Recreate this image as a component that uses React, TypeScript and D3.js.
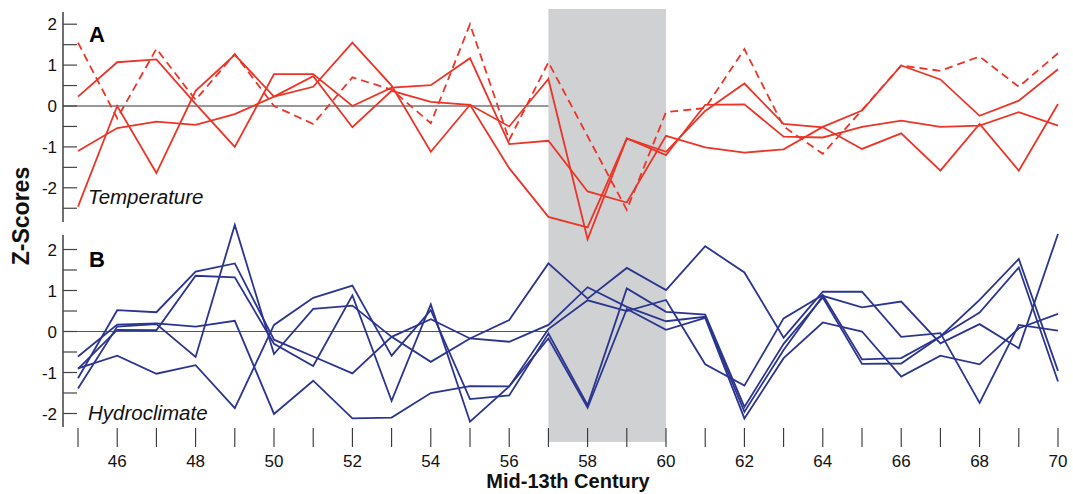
import React from "react";
import * as d3 from "d3";

// ---- data ----
const YEARS = [45, 46, 47, 48, 49, 50, 51, 52, 53, 54, 55, 56, 57, 58, 59, 60, 61, 62, 63, 64, 65, 66, 67, 68, 69, 70];
const X_TICK_LABELS = [46, 48, 50, 52, 54, 56, 58, 60, 62, 64, 66, 68, 70];
const Y_TICK_LABELS = [-2, -1, 0, 1, 2];
const SHADE_START = 57;
const SHADE_END = 60;

// Temperature (panel A)
const TEMP_1 = [0.23, 1.07, 1.14, 0.05, -1.0, 0.78, 0.78, 0.0, 0.45, 0.51, 1.17, -0.93, -0.85, -2.09, -2.36, -0.73, -1.01, -1.14, -1.06, -0.51, -0.11, 0.99, 0.65, -0.24, 0.13, 0.9];
const TEMP_2 = [-1.1, -0.54, -0.38, -0.46, -0.2, 0.23, 0.47, 1.55, 0.5, -1.12, 0.03, -0.5, 0.66, -3.26, -0.79, -1.12, -0.12, 0.55, -0.44, -0.52, -1.05, -0.67, -1.58, -0.44, -1.58, 0.05];
const TEMP_3 = [-2.46, 0.0, -1.64, 0.37, 1.25, 0.23, 0.73, -0.52, 0.37, 0.1, 0.03, -1.52, -2.71, -2.97, -0.79, -1.2, 0.03, 0.04, -0.75, -0.77, -0.51, -0.36, -0.51, -0.48, -0.15, -0.48];
const TEMP_DASHED = [1.55, -0.3, 1.4, 0.15, 1.27, 0.0, -0.44, 0.7, 0.4, -0.42, 2.0, -0.83, 1.07, -0.74, -2.54, -0.15, -0.05, 1.39, -0.5, -1.17, -0.1, 0.99, 0.86, 1.21, 0.47, 1.29];

// Hydroclimate (panel B)
const HYDRO_1 = [-0.9, -0.59, -1.03, -0.82, -1.87, 0.16, 0.82, 1.12, -0.59, 0.52, -1.65, -1.56, -0.05, -1.8, 1.05, 0.48, 0.41, -1.84, -0.3, 0.83, -0.79, -0.78, -0.12, 0.46, 1.56, -1.22];
const HYDRO_2 = [-0.61, 0.17, 0.2, 0.12, 0.26, -2.01, -1.2, -2.12, -2.1, -1.5, -1.33, -1.34, 0.06, 0.76, 0.5, 0.77, -0.8, -1.32, 0.32, 0.89, -0.68, -0.65, -0.12, 0.77, 1.77, -0.96];
const HYDRO_3 = [-1.39, 0.12, 0.18, -0.62, 2.6, -0.55, 0.55, 0.63, -0.13, -0.74, -0.17, 0.28, 1.66, 0.8, 1.55, 1.01, 2.08, 1.44, -0.15, 0.97, 0.97, -0.13, -0.04, -1.74, 0.16, 0.02];
const HYDRO_4 = [-1.14, 0.52, 0.47, 1.46, 1.66, -0.2, -0.61, -1.02, -0.13, 0.3, -0.17, -0.25, 0.16, 1.08, 0.6, 0.25, 0.36, -1.96, -0.45, 0.87, 0.59, 0.73, -0.29, 0.18, -0.41, 2.38];
const HYDRO_5 = [-0.91, 0.04, 0.03, 1.36, 1.32, -0.3, -0.84, 0.88, -1.69, 0.66, -2.2, -1.34, -0.17, -1.86, 0.55, 0.04, 0.33, -2.12, -0.65, 0.22, 0.0, -1.1, -0.59, -0.8, 0.08, 0.43];

const TEMP_SOLID = [TEMP_1, TEMP_2, TEMP_3];
const HYDRO = [HYDRO_1, HYDRO_2, HYDRO_3, HYDRO_4, HYDRO_5];

const RED = "#ec3427";
const BLUE = "#2b3590";
const FONT = "'Liberation Sans', Arial, Helvetica, sans-serif";

export default function App() {
  const W = 1073;
  const H = 494;
  const x = d3.scaleLinear().domain([45, 70]).range([78, 1058]);
  const yA = d3.scaleLinear().domain([-2, 2]).range([187.8, 24.2]);
  const yB = d3.scaleLinear().domain([-2, 2]).range([413.5, 249.5]);
  const axisX = 63;

  const lineA = d3
    .line<number>()
    .x((_, i) => x(YEARS[i]))
    .y((d) => yA(d));
  const lineB = d3
    .line<number>()
    .x((_, i) => x(YEARS[i]))
    .y((d) => yB(d));

  const ticksA = d3.range(-2.5, 2.01, 0.5);
  const ticksB = d3.range(-2, 2.01, 0.5);

  return (
    <div style={{ position: "fixed", left: 0, top: 0, width: W, height: H, background: "#fff" }}>
      <svg width={W} height={H} style={{ display: "block" }} fontFamily={FONT}>
        {/* shaded interval */}
        <rect
          x={x(SHADE_START)}
          y={9}
          width={x(SHADE_END) - x(SHADE_START)}
          height={433}
          fill="#d0d1d3"
        />

        {/* zero lines */}
        <line x1={axisX} x2={x(SHADE_START)} y1={yA(0)} y2={yA(0)} stroke="#333" strokeWidth={1.2} />
        <line x1={axisX} x2={x(SHADE_START)} y1={yB(0)} y2={yB(0)} stroke="#555" strokeWidth={1.2} />

        {/* y axis A */}
        <line x1={axisX} x2={axisX} y1={12} y2={222} stroke="#222" strokeWidth={1.3} />
        {ticksA.map((t) => (
          <line key={"ta" + t} x1={axisX} x2={axisX + 14} y1={yA(t)} y2={yA(t)} stroke="#444" strokeWidth={1.2} />
        ))}
        {Y_TICK_LABELS.map((t) => (
          <text key={"la" + t} x={57} y={yA(t)} dy="0.36em" textAnchor="end" fontSize={17} fill="#111">
            {t}
          </text>
        ))}

        {/* y axis B */}
        <line x1={axisX} x2={axisX} y1={235} y2={427} stroke="#222" strokeWidth={1.3} />
        {ticksB.map((t) => (
          <line key={"tb" + t} x1={axisX} x2={axisX + 14} y1={yB(t)} y2={yB(t)} stroke="#444" strokeWidth={1.2} />
        ))}
        {Y_TICK_LABELS.map((t) => (
          <text key={"lb" + t} x={57} y={yB(t)} dy="0.36em" textAnchor="end" fontSize={17} fill="#111">
            {t}
          </text>
        ))}

        {/* x axis ticks */}
        {YEARS.map((yr) => (
          <line key={"tx" + yr} x1={x(yr)} x2={x(yr)} y1={428} y2={447} stroke="#333" strokeWidth={1.1} />
        ))}
        {X_TICK_LABELS.map((yr) => (
          <text key={"lx" + yr} x={x(yr)} y={467} textAnchor="middle" fontSize={17} fill="#111">
            {yr}
          </text>
        ))}
        <text x={568} y={488} textAnchor="middle" fontSize={20} fontWeight="bold" fill="#111">
          Mid-13th Century
        </text>

        {/* y title */}
        <text
          transform={`translate(29,216) rotate(-90)`}
          textAnchor="middle"
          fontSize={23}
          fontWeight="bold"
          fill="#111"
        >
          Z-Scores
        </text>

        {/* temperature lines */}
        {TEMP_SOLID.map((s, i) => (
          <path key={"t" + i} d={lineA(s) || ""} fill="none" stroke={RED} strokeWidth={1.8} />
        ))}
        <path d={lineA(TEMP_DASHED) || ""} fill="none" stroke={RED} strokeWidth={1.8} strokeDasharray="8,5" />

        {/* hydroclimate lines */}
        {HYDRO.map((s, i) => (
          <path key={"h" + i} d={lineB(s) || ""} fill="none" stroke={BLUE} strokeWidth={1.8} />
        ))}

        {/* panel labels */}
        <text x={89} y={42} fontSize={22} fontWeight="bold" fill="#000">A</text>
        <text x={89} y={267} fontSize={22} fontWeight="bold" fill="#000">B</text>
        <text x={88} y={204} fontSize={20.5} fontStyle="italic" fill="#111">Temperature</text>
        <text x={88} y={420} fontSize={20.5} fontStyle="italic" fill="#111">Hydroclimate</text>
      </svg>
    </div>
  );
}
